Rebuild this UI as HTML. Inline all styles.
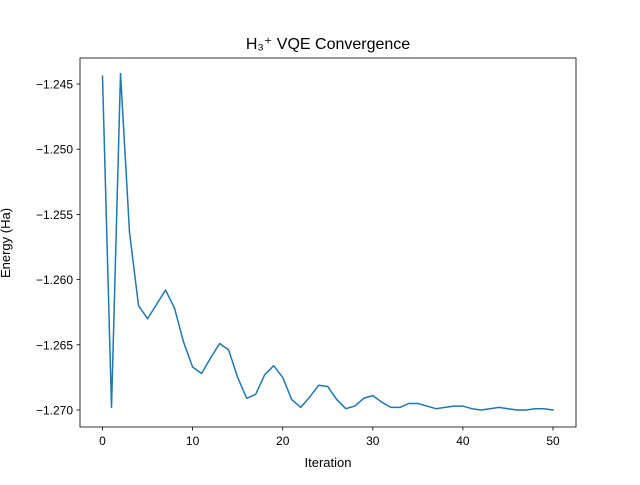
<!DOCTYPE html>
<html><head><meta charset="utf-8"><style>
body{margin:0;background:#fff;}
svg text{font-family:"Liberation Sans","DejaVu Sans",sans-serif;fill:#000;}
</style></head><body>
<svg id="chart" width="640" height="480" viewBox="0 0 640 480">
<rect width="640" height="480" fill="#fff"/>
<text x="328" y="49" text-anchor="middle" font-size="16">H₃⁺ VQE Convergence</text>
<g id="plot"></g>
<rect x="80" y="58" width="496" height="369" fill="none" stroke="#000" stroke-width="0.8"/>
<text x="328" y="467" text-anchor="middle" font-size="13">Iteration</text>
<text transform="translate(10,243) rotate(-90)" text-anchor="middle" font-size="13">Energy (Ha)</text>
</svg>
<script>
const energies=[-1.2444,-1.2698,-1.2442,-1.2564,-1.2620,-1.2630,-1.2619,-1.2608,-1.2622,-1.2648,-1.2667,-1.2672,-1.2660,-1.2649,-1.2654,-1.2675,-1.2691,-1.2688,-1.2673,-1.2666,-1.2675,-1.2692,-1.2698,-1.2690,-1.2681,-1.2682,-1.2692,-1.2699,-1.2697,-1.2691,-1.2689,-1.2694,-1.2698,-1.2698,-1.2695,-1.2695,-1.2697,-1.2699,-1.2698,-1.2697,-1.2697,-1.2699,-1.2700,-1.2699,-1.2698,-1.2699,-1.2700,-1.2700,-1.2699,-1.2699,-1.2700];
const xTicks=[0,10,20,30,40,50];
const yTicks=[-1.245,-1.250,-1.255,-1.260,-1.265,-1.270];
const yLabels=["−1.245","−1.250","−1.255","−1.260","−1.265","−1.270"];
const NS="http://www.w3.org/2000/svg";
const g=document.getElementById('plot');
function xs(v){return 102.5+v*(553-102.5)/50;}
function ys(v){return 84+(-1.245-v)/0.025*326;}
function mk(t,a){const e=document.createElementNS(NS,t);for(const k in a)e.setAttribute(k,a[k]);g.appendChild(e);return e;}
xTicks.forEach(t=>{
 const l=mk('line',{x1:xs(t),x2:xs(t),y1:427,y2:430.5,stroke:'#000','stroke-width':0.8});
 
 
 const tx=mk('text',{x:xs(t),y:445,'text-anchor':'middle','font-size':12});
 tx.textContent=t;
 
 
});
yTicks.forEach((t,i)=>{
 const l=mk('line',{x1:76.5,x2:80,y1:ys(t),y2:ys(t),stroke:'#000','stroke-width':0.8});
 
 
 const tx=mk('text',{x:73,y:ys(t)+4.5,'text-anchor':'end','font-size':12});
 tx.textContent=yLabels[i];
 
 
});
const p=mk('polyline',{points:energies.map((v,i)=>xs(i)+','+ys(v)).join(' '),fill:'none',stroke:'#1f77b4','stroke-width':1.5,'stroke-linejoin':'round','stroke-linecap':'square'});


</script>
</body></html>
